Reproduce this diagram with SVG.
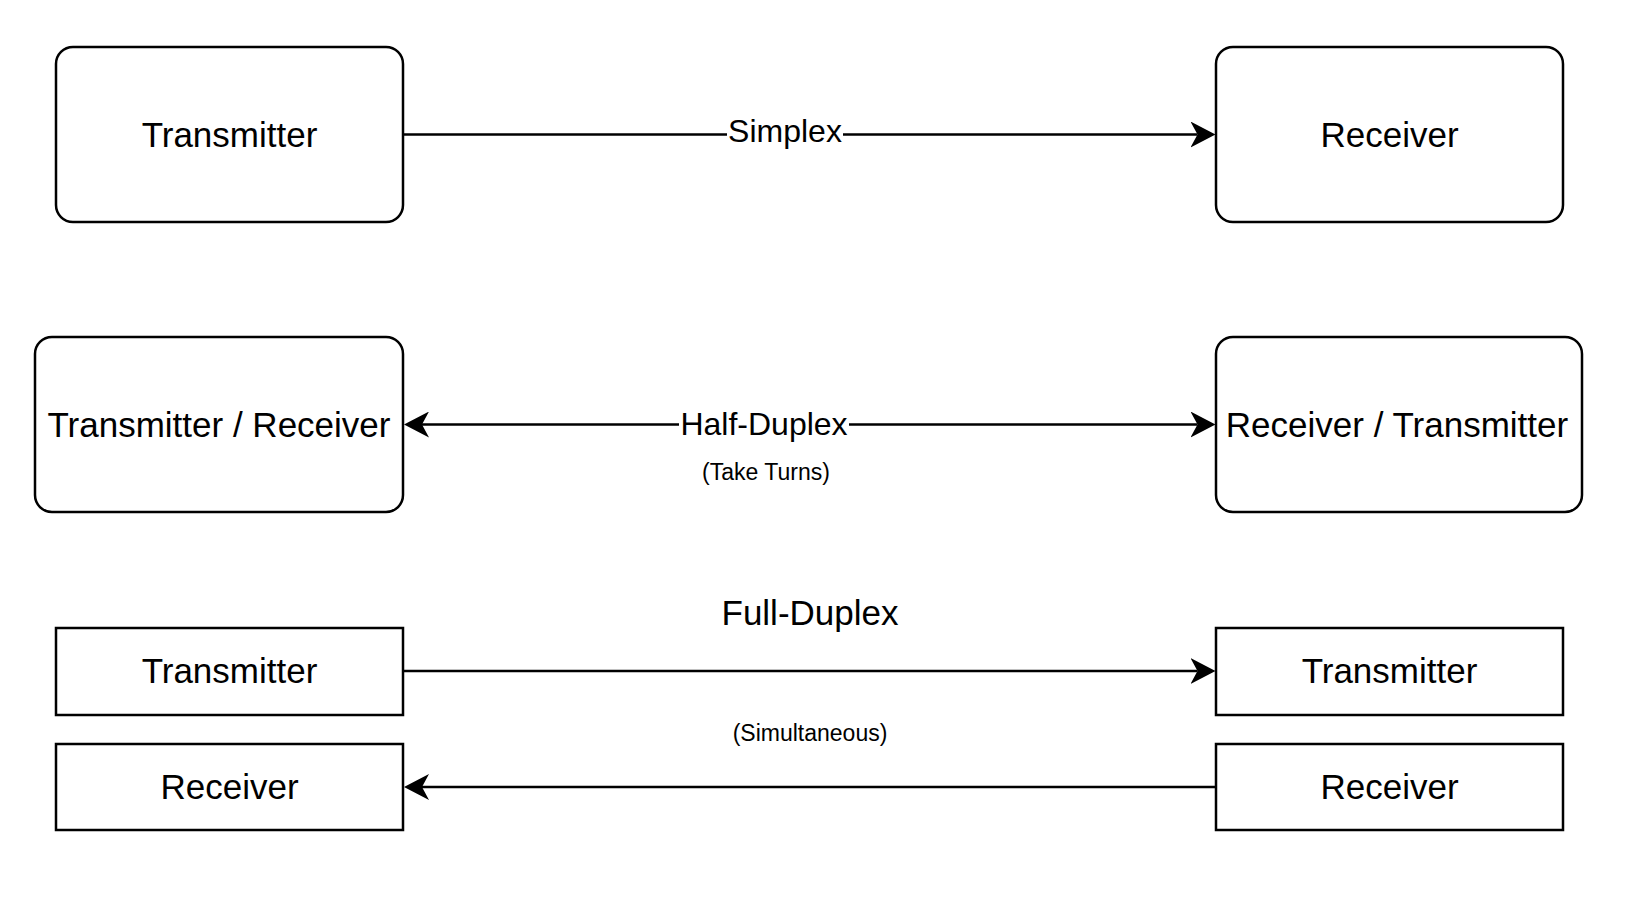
<svg xmlns="http://www.w3.org/2000/svg" width="1640" height="902" viewBox="0 0 1640 902">
<style>
  .box { fill: #ffffff; stroke: #000000; stroke-width: 2.5; }
  .lbl { font-family: "Liberation Sans", Arial, Helvetica, sans-serif; font-size: 35px; fill: #000000; text-anchor: middle; }
  .elbl { font-family: "Liberation Sans", Arial, Helvetica, sans-serif; font-size: 32px; fill: #000000; text-anchor: middle; }
  .small { font-family: "Liberation Sans", Arial, Helvetica, sans-serif; font-size: 23px; fill: #000000; text-anchor: middle; }
  .edge { fill: none; stroke: #000000; stroke-width: 2.5; }
</style>
<defs>
  <marker id="arrow" markerUnits="userSpaceOnUse" viewBox="0 0 26 26" markerWidth="26" markerHeight="26" refX="7" refY="13" orient="auto-start-reverse">
    <path d="M0,0 L25,13 L0,26 L7,13 Z" fill="#000000"/>
  </marker>
</defs>
<rect width="1640" height="902" fill="#ffffff"/>

<g id="connectors">
  <path id="e-simplex" class="edge" d="M403,134.5 L1197.5,134.5" marker-end="url(#arrow)"/>
  <rect x="727" y="118" width="116" height="32" fill="#ffffff"/>
  <text class="elbl" x="785" y="142">Simplex</text>

  <path id="e-half" class="edge" d="M422,424.5 L1197.5,424.5" marker-start="url(#arrow)" marker-end="url(#arrow)"/>
  <rect x="679" y="408" width="170" height="32" fill="#ffffff"/>
  <text class="elbl" x="764" y="435">Half-Duplex</text>
  <text class="small" x="766" y="480">(Take Turns)</text>

  <path id="e-full-tx" class="edge" d="M403,671 L1197.5,671" marker-end="url(#arrow)"/>
  <path id="e-full-rx" class="edge" d="M1216,787 L422,787" marker-end="url(#arrow)"/>
  <text class="lbl" x="810" y="625">Full-Duplex</text>
  <text class="small" x="810" y="741">(Simultaneous)</text>
</g>

<g id="n-transmitter-simplex">
  <rect class="box" x="56" y="47" width="347" height="175" rx="17" ry="17"/>
  <text class="lbl" x="229.5" y="147">Transmitter</text>
</g>
<g id="n-receiver-simplex">
  <rect class="box" x="1216" y="47" width="347" height="175" rx="17" ry="17"/>
  <text class="lbl" x="1389.5" y="147">Receiver</text>
</g>

<g id="n-tr-half">
  <rect class="box" x="35" y="337" width="368" height="175" rx="17" ry="17"/>
  <text class="lbl" x="219" y="437">Transmitter / Receiver</text>
</g>
<g id="n-rt-half">
  <rect class="box" x="1216" y="337" width="366" height="175" rx="17" ry="17"/>
  <text class="lbl" x="1397" y="437">Receiver / Transmitter</text>
</g>

<g id="n-tx-left">
  <rect class="box" x="56" y="628" width="347" height="87"/>
  <text class="lbl" x="229.5" y="683">Transmitter</text>
</g>
<g id="n-rx-left">
  <rect class="box" x="56" y="744" width="347" height="86"/>
  <text class="lbl" x="229.5" y="799">Receiver</text>
</g>
<g id="n-tx-right">
  <rect class="box" x="1216" y="628" width="347" height="87"/>
  <text class="lbl" x="1389.5" y="683">Transmitter</text>
</g>
<g id="n-rx-right">
  <rect class="box" x="1216" y="744" width="347" height="86"/>
  <text class="lbl" x="1389.5" y="799">Receiver</text>
</g>
</svg>
